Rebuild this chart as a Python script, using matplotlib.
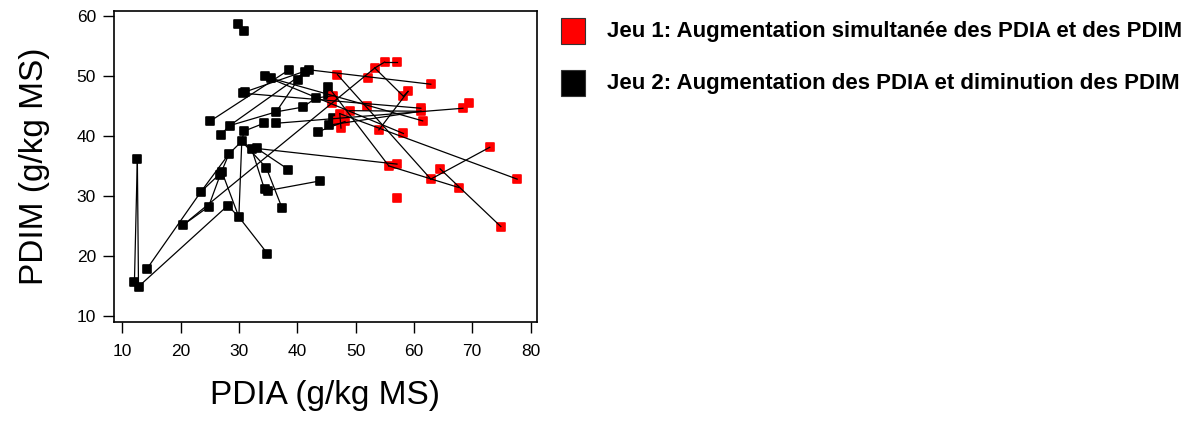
import numpy as np
import matplotlib
matplotlib.use("Agg")
import matplotlib.pyplot as plt
from matplotlib.markers import MarkerStyle
from matplotlib.patches import Rectangle

plt.rcParams['font.family'] = ['Liberation Sans', 'DejaVu Sans']

# Jeu 2 (noir): PDIA, PDIM
jeu2_pdia = [29.9, 30.9, 38.6, 34.5, 35.5, 41.3, 42.0, 40.1, 30.7, 31.0, 45.3, 45.3,
             43.2, 41.0, 36.4, 25.0, 28.4, 26.9, 34.3, 36.4, 30.9, 43.6, 45.5, 46.2,
             30.5, 28.3, 32.2, 33.1, 12.6, 27.1, 26.8, 34.7, 38.5, 23.5, 34.4, 35.0,
             43.9, 24.8, 28.1, 37.4, 30.0, 20.5, 34.9, 14.2, 12.1, 12.8]
jeu2_pdim = [58.7, 57.5, 51.0, 49.9, 49.6, 50.6, 51.0, 49.3, 47.1, 47.3, 48.2, 46.8,
             46.3, 44.8, 44.0, 42.4, 41.7, 40.2, 42.1, 42.1, 40.8, 40.7, 41.8, 42.9,
             39.1, 37.0, 37.8, 37.9, 36.2, 34.0, 33.5, 34.7, 34.4, 30.7, 31.1, 30.9,
             32.5, 28.2, 28.4, 28.0, 26.5, 25.2, 20.4, 17.8, 15.6, 14.9]

# Jeu 1 (rouge): PDIA, PDIM
jeu1_pdia = [55.0, 57.1, 53.3, 46.9, 52.2, 62.9, 59.0, 58.2, 46.2, 46.0, 51.9, 69.4,
             68.4, 61.2, 61.2, 49.0, 47.3, 61.5, 47.0, 48.2, 47.5, 54.0, 58.2, 73.0,
             57.1, 55.7, 64.5, 62.9, 77.7, 67.7, 57.1, 74.9]
jeu1_pdim = [52.3, 52.3, 51.3, 50.2, 49.6, 48.6, 47.4, 46.6, 46.7, 45.4, 45.0, 45.4,
             44.6, 44.6, 44.1, 44.2, 43.7, 42.5, 42.4, 42.4, 41.3, 41.0, 40.4, 38.1,
             35.3, 35.0, 34.5, 32.8, 32.8, 31.4, 29.6, 24.9]

# liaisons entre régimes (PDIA départ, PDIM départ, PDIA arrivée, PDIM arrivée)
seg_x0 = [29.9, 12.6, 12.6, 12.8, 28.1, 30.0, 30.0, 27.1, 14.2, 23.5, 20.5, 24.8,
          23.5, 28.3, 26.8, 20.5, 30.5, 32.2, 34.7, 33.1, 35.0, 33.1, 30.5, 30.9,
          30.9, 36.4, 25.0, 28.4, 36.4, 26.9, 28.4, 36.4, 41.0, 43.2, 30.7, 31.0,
          34.5, 35.5, 42.0, 45.3, 46.9, 53.3, 55.0, 53.3, 58.2, 59.0, 62.9, 64.5,
          55.7, 47.3, 49.0, 45.5, 43.6, 47.3]
seg_y0 = [58.7, 36.2, 36.2, 14.9, 28.4, 26.5, 26.5, 34.0, 17.8, 30.7, 25.2, 28.2,
          30.7, 37.0, 33.5, 25.2, 39.1, 37.8, 34.7, 37.9, 30.9, 37.9, 39.1, 40.8,
          40.8, 42.1, 42.4, 41.7, 44.0, 40.2, 41.7, 44.0, 44.8, 46.3, 47.1, 47.3,
          49.9, 49.6, 51.0, 48.2, 50.2, 51.3, 52.3, 51.3, 46.6, 47.4, 32.8, 34.5,
          35.0, 43.7, 44.2, 41.8, 40.7, 43.7]
seg_x1 = [30.9, 12.1, 12.8, 28.1, 30.0, 34.9, 30.5, 30.0, 23.5, 28.3, 24.8, 26.8,
          27.1, 30.5, 28.3, 53.3, 34.7, 34.4, 37.4, 38.5, 43.9, 57.1, 32.2, 30.5,
          34.3, 68.4, 38.6, 41.3, 40.1, 28.4, 36.4, 41.0, 43.2, 46.2, 61.2, 42.0,
          58.2, 61.5, 62.9, 55.7, 62.9, 55.0, 57.1, 58.2, 59.0, 54.0, 73.0, 74.9,
          67.7, 77.7, 61.2, 61.2, 48.2, 47.5]
seg_y1 = [57.5, 15.6, 14.9, 28.4, 26.5, 20.4, 39.1, 26.5, 30.7, 37.0, 28.2, 33.5,
          34.0, 39.1, 37.0, 51.3, 34.7, 31.1, 28.0, 34.4, 32.5, 35.3, 37.8, 39.1,
          42.1, 44.6, 51.0, 50.6, 49.3, 41.7, 44.0, 44.8, 46.3, 46.7, 44.6, 51.0,
          40.4, 42.5, 48.6, 35.0, 32.8, 52.3, 52.3, 46.6, 47.4, 41.0, 38.1, 24.9,
          31.4, 32.8, 44.1, 44.1, 42.4, 41.3]

legend_labels = ["Jeu 1: Augmentation simultanée des PDIA et des PDIM",
                 "Jeu 2: Augmentation des PDIA et diminution des PDIM"]

fig = plt.figure(figsize=(12, 4.21), dpi=100)
ax = fig.add_axes([0.095, 0.235, 0.3525, 0.739])

sq = MarkerStyle('s', joinstyle='round')
ax.plot(jeu2_pdia, jeu2_pdim, linestyle='none', marker=sq, markersize=5.5,
        markerfacecolor='black', markeredgecolor='black', markeredgewidth=1.2, zorder=2)
ax.plot(jeu1_pdia, jeu1_pdim, linestyle='none', marker=sq, markersize=5.5,
        markerfacecolor='#ff0000', markeredgecolor='#ff0000', markeredgewidth=1.2, zorder=2)

for x0, y0, x1, y1 in zip(seg_x0, seg_y0, seg_x1, seg_y1):
    ax.plot([x0, x1], [y0, y1], color='black', linewidth=0.9, zorder=3)

ax.set_xlim(8.6, 81.1)
ax.set_ylim(9.0, 60.8)
ax.set_xticks(np.arange(10, 81, 10))
ax.set_yticks(np.arange(10, 61, 10))
ax.tick_params(direction='out', length=8, width=1, labelsize=12.5, colors='black')
ax.tick_params(axis='x', pad=8)
ax.tick_params(axis='y', pad=5)
for s in ax.spines.values():
    s.set_linewidth(1.2)

ax.set_xlabel("PDIA (g/kg MS)", fontsize=24, labelpad=15)
ax.set_ylabel("PDIM (g/kg MS)", fontsize=24, labelpad=19)

# légende dessinée à la main
colors = ['#ff0000', 'black']
ys = [0.926, 0.802]
for c, yy, lab in zip(colors, ys, legend_labels):
    fig.add_artist(Rectangle((0.4675, yy - 0.031), 0.02, 0.062, transform=fig.transFigure,
                             facecolor=c, edgecolor='#333333', linewidth=0.8))
    fig.text(0.506, yy, lab, fontsize=16, fontweight='bold', va='center', ha='left')

fig.savefig("out.png", dpi=100)
